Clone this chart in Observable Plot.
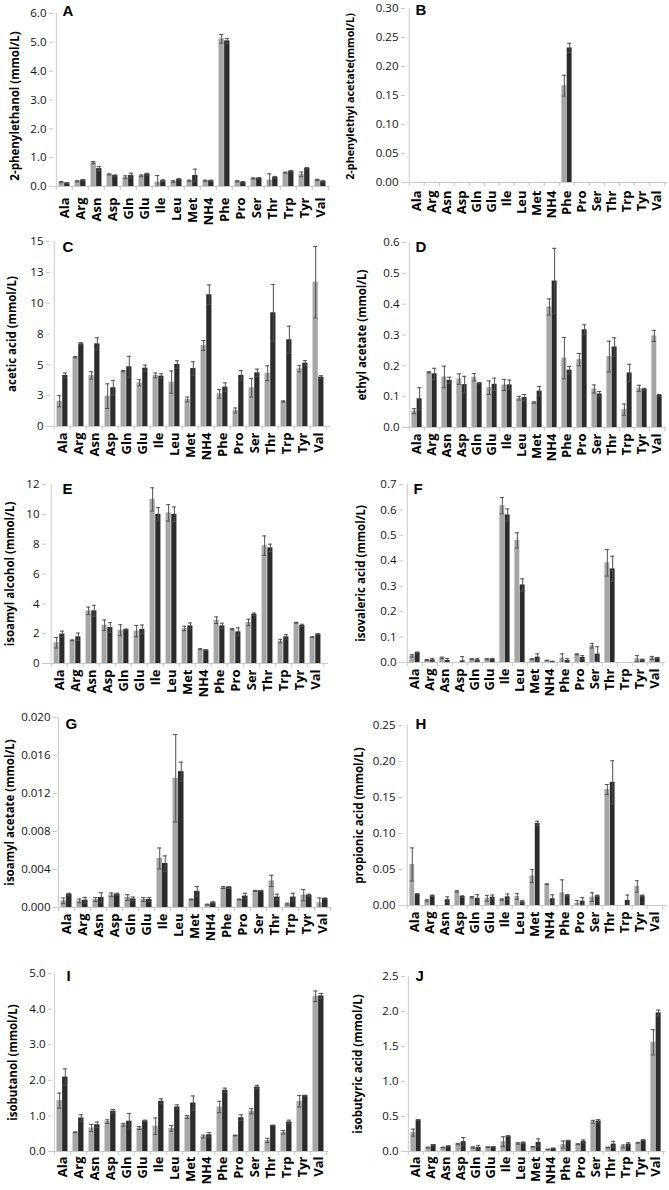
<!DOCTYPE html>
<html>
<head>
<meta charset="utf-8">
<script src="https://cdn.jsdelivr.net/npm/d3@7"></script>
<script src="https://cdn.jsdelivr.net/npm/@observablehq/plot@0.6"></script>
<style>
  body { margin: 0; background: #fff; }
  #root { position: relative; width: 669px; height: 1190px; overflow: hidden; background: #fff; font-family: "Open Sans", sans-serif; }
  #root svg { position: absolute; overflow: visible; }
</style>
</head>
<body>
<div id="root"></div>
<script>
// ---------- categories ----------
const categories = ["Ala","Arg","Asn","Asp","Gln","Glu","Ile","Leu","Met","NH4","Phe","Pro","Ser","Thr","Trp","Tyr","Val"];

// ---------- A: 2-phenylethanol ----------
const A_light    = [0.15,0.18,0.83,0.42,0.32,0.37,0.15,0.17,0.20,0.20,5.12,0.18,0.28,0.22,0.48,0.42,0.23];
const A_lightErr = [0.02,0.02,0.04,0.02,0.05,0.03,0.23,0.03,0.02,0.02,0.15,0.02,0.02,0.22,0.02,0.08,0.02];
const A_dark     = [0.12,0.22,0.62,0.38,0.38,0.43,0.20,0.25,0.38,0.20,5.05,0.15,0.29,0.32,0.53,0.63,0.18];
const A_darkErr  = [0.02,0.02,0.07,0.02,0.08,0.03,0.03,0.02,0.22,0.02,0.08,0.02,0.02,0.03,0.02,0.03,0.02];
const A_ticks = [0,1,2,3,4,5,6];

// ---------- B: 2-phenylethyl acetate ----------
const B_light    = [null,null,null,null,null,null,null,null,null,null,0.167,null,null,null,null,null,null];
const B_lightErr = [0,0,0,0,0,0,0,0,0,0,0.018,0,0,0,0,0,0];
const B_dark     = [null,null,null,null,null,null,null,null,null,null,0.232,null,null,null,null,null,null];
const B_darkErr  = [0,0,0,0,0,0,0,0,0,0,0.008,0,0,0,0,0,0];
const B_ticks = [0,0.05,0.10,0.15,0.20,0.25,0.30];

// ---------- C: acetic acid ----------
const C_light    = [2.05,5.62,4.14,2.46,4.49,3.54,4.14,3.60,2.19,6.57,2.65,1.30,3.14,4.32,2.03,4.68,11.7];
const C_lightErr = [0.45,0.05,0.30,1.00,0.05,0.25,0.20,0.90,0.20,0.40,0.35,0.20,0.75,0.60,0.05,0.25,2.90];
const C_dark     = [4.14,6.70,6.70,3.14,4.84,4.73,4.08,5.03,4.70,10.68,3.19,4.14,4.35,9.22,7.03,5.14,4.00];
const C_darkErr  = [0.20,0.10,0.50,0.60,0.85,0.25,0.20,0.30,0.55,0.80,0.35,0.40,0.30,2.30,1.10,0.20,0.12];
const C_ticks = [0,2.5,5,7.5,10,12.5,15];

// ---------- D: ethyl acetate ----------
const D_light    = [0.053,0.179,0.164,0.157,0.163,0.129,0.138,0.095,0.081,0.391,0.225,0.220,0.125,0.230,0.058,0.127,0.297];
const D_lightErr = [0.008,0.002,0.035,0.017,0.012,0.022,0.018,0.006,0.002,0.026,0.067,0.020,0.013,0.050,0.018,0.010,0.018];
const D_dark     = [0.093,0.174,0.153,0.139,0.144,0.140,0.138,0.097,0.118,0.475,0.186,0.317,0.109,0.261,0.177,0.124,0.104];
const D_darkErr  = [0.036,0.018,0.010,0.027,0.002,0.020,0.016,0.010,0.015,0.106,0.012,0.016,0.008,0.030,0.028,0.003,0.003];
const D_ticks = [0,0.1,0.2,0.3,0.4,0.5,0.6];

// ---------- E: isoamyl alcohol ----------
const E_light    = [1.39,1.55,3.53,2.57,2.23,2.17,11.0,10.1,2.35,0.96,2.90,2.30,2.75,7.90,1.50,2.73,1.77];
const E_lightErr = [0.35,0.03,0.25,0.35,0.37,0.38,0.78,0.55,0.15,0.03,0.22,0.05,0.22,0.65,0.12,0.03,0.02];
const E_dark     = [1.97,1.79,3.53,2.41,2.28,2.28,10.0,10.0,2.52,0.90,2.52,2.12,3.30,7.75,1.79,2.55,1.97];
const E_darkErr  = [0.20,0.25,0.37,0.33,0.03,0.30,0.45,0.50,0.20,0.03,0.18,0.27,0.08,0.25,0.15,0.08,0.03];
const E_ticks = [0,2,4,6,8,10,12];

// ---------- F: isovaleric acid ----------
const F_light    = [0.026,0.010,0.018,null,0.013,0.013,0.617,0.480,0.013,0.008,0.017,0.032,0.066,0.392,null,0.015,0.018];
const F_lightErr = [0.005,0.002,0.003,0,0.002,0.002,0.032,0.030,0.002,0.001,0.017,0.002,0.009,0.052,0,0.012,0.006];
const F_dark     = [0.039,0.010,0.008,0.006,0.010,0.014,0.580,0.305,0.021,0.004,0.008,0.020,0.033,0.368,null,0.011,0.018];
const F_darkErr  = [0.002,0.006,0.008,0.017,0.005,0.002,0.024,0.024,0.013,0.001,0.007,0.007,0.029,0.050,0,0.002,0.002];
const F_ticks = [0,0.1,0.2,0.3,0.4,0.5,0.6,0.7];

// ---------- G: isoamyl acetate ----------
const G_light    = [0.0007,0.0007,0.00084,0.00133,0.00105,0.00084,0.00516,0.0136,0.00084,0.0003,0.0021,0.00084,0.00175,0.0028,0.00035,0.0013,0.0005];
const G_lightErr = [0.0003,0.0002,0.0002,0.0002,0.0003,0.0002,0.0011,0.0046,0.00005,0.00005,0.0001,0.00005,0.00005,0.0006,0.0001,0.0006,0.0005];
const G_dark     = [0.0014,0.00077,0.00105,0.0014,0.0009,0.00084,0.00463,0.0143,0.0017,0.0005,0.0021,0.0012,0.00175,0.0011,0.0011,0.0013,0.00095];
const G_darkErr  = [0.0001,0.0003,0.0005,0.0001,0.0002,0.0002,0.0008,0.0010,0.0005,0.0001,0.0001,0.0003,0.00005,0.0003,0.0004,0.0001,0.00005];
const G_ticks = [0,0.004,0.008,0.012,0.016,0.020];

// ---------- H: propionic acid ----------
const H_light    = [0.057,0.007,null,0.0195,0.0115,0.010,0.0083,0.0125,0.041,0.0296,0.0176,0.003,0.0116,0.161,null,0.0264,null];
const H_lightErr = [0.023,0.001,0,0.001,0.001,0.004,0.001,0.004,0.009,0.0005,0.018,0.004,0.006,0.007,0,0.008,0];
const H_dark     = [0.016,0.0135,0.008,0.0125,0.010,0.0115,0.012,0.005,0.114,0.0093,0.0144,0.006,0.0134,0.171,0.007,0.0134,null];
const H_darkErr  = [0.0005,0.001,0.004,0.001,0.005,0.003,0.004,0.002,0.003,0.0055,0.001,0.005,0.001,0.030,0.0075,0.001,0];
const H_ticks = [0,0.05,0.10,0.15,0.20,0.25];

// ---------- I: isobutanol ----------
const I_light    = [1.43,0.54,0.66,0.84,0.75,0.66,0.71,0.65,0.97,0.42,1.25,0.45,1.13,0.31,0.54,1.41,4.36];
const I_lightErr = [0.21,0.01,0.10,0.05,0.04,0.04,0.23,0.08,0.04,0.04,0.16,0.01,0.07,0.06,0.05,0.16,0.15];
const I_dark     = [2.09,0.94,0.75,1.13,0.85,0.86,1.41,1.25,1.36,0.47,1.72,0.95,1.81,0.73,0.83,1.57,4.37];
const I_darkErr  = [0.23,0.09,0.08,0.05,0.22,0.02,0.07,0.06,0.20,0.06,0.06,0.08,0.05,0.01,0.05,0.01,0.07];
const I_ticks = [0,1,2,3,4,5];

// ---------- J: isobutyric acid ----------
const J_light    = [0.27,0.057,0.057,0.105,0.057,0.062,0.14,0.115,0.067,0.03,0.10,0.105,0.425,0.057,0.072,0.125,1.56];
const J_lightErr = [0.05,0.005,0.005,0.01,0.01,0.005,0.07,0.01,0.005,0.002,0.05,0.005,0.02,0.005,0.02,0.005,0.18];
const J_dark     = [0.45,0.095,0.076,0.14,0.057,0.067,0.22,0.125,0.13,0.045,0.155,0.145,0.435,0.105,0.105,0.162,1.98];
const J_darkErr  = [0.005,0.005,0.005,0.06,0.03,0.005,0.005,0.01,0.05,0.003,0.005,0.02,0.02,0.04,0.02,0.005,0.04];
const J_ticks = [0,0.5,1.0,1.5,2.0,2.5];

// ---------- panel definitions (text + layout) ----------
const panels = [
  {letter:"A", title:"2-phenylethanol (mmol/L)", light:A_light, lightErr:A_lightErr, dark:A_dark, darkErr:A_darkErr, ticks:A_ticks, fmt:".1f",
   left:0, top:0, w:334, h:235, mL:53, mR:4, mT:13, mB:49, titleDx:-38, titleDy:6, titleSize:11.5, letDx:9, letDy:-8, xPad:11},
  {letter:"B", title:"2-phenylethyl acetate(mmol/L)", light:B_light, lightErr:B_lightErr, dark:B_dark, darkErr:B_darkErr, ticks:B_ticks, fmt:".2f",
   left:335, top:0, w:334, h:235, mL:70, mR:2, mT:8, mB:53, titleDx:-55, titleDy:1, titleSize:10.8, letDx:10, letDy:-4, xPad:8},
  {letter:"C", title:"acetic acid (mmol/L)", light:C_light, lightErr:C_lightErr, dark:C_dark, darkErr:C_darkErr, ticks:C_ticks, fmt:".0f",
   left:0, top:235, w:334, h:230, mL:50, mR:4, mT:6, mB:39, titleDx:-38, titleDy:0, titleSize:11.5, letDx:12, letDy:0, xPad:6},
  {letter:"D", title:"ethyl acetate (mmol/L)", light:D_light, lightErr:D_lightErr, dark:D_dark, darkErr:D_darkErr, ticks:D_ticks, fmt:".1f",
   left:335, top:235, w:334, h:230, mL:71, mR:3, mT:7, mB:38, titleDx:-44, titleDy:0, titleSize:11.5, letDx:9, letDy:-1, xPad:6},
  {letter:"E", title:"isoamyl alcohol (mmol/L)", light:E_light, lightErr:E_lightErr, dark:E_dark, darkErr:E_darkErr, ticks:E_ticks, fmt:"d",
   left:0, top:465, w:334, h:235, mL:46, mR:6, mT:19, mB:37, titleDx:-36, titleDy:0, titleSize:11.5, letDx:16, letDy:-1, xPad:6},
  {letter:"F", title:"isovaleric acid (mmol/L)", light:F_light, lightErr:F_lightErr, dark:F_dark, darkErr:F_darkErr, ticks:F_ticks, fmt:".1f",
   left:335, top:465, w:334, h:235, mL:68, mR:4, mT:19, mB:38, titleDx:-42, titleDy:0, titleSize:11.5, letDx:10, letDy:-1, xPad:6},
  {letter:"G", title:"isoamyl acetate (mmol/L)", light:G_light, lightErr:G_lightErr, dark:G_dark, darkErr:G_darkErr, ticks:G_ticks, fmt:".3f",
   left:0, top:700, w:334, h:240, mL:57, mR:4, mT:17, mB:33, titleDx:-47, titleDy:0, titleSize:11.5, letDx:8, letDy:1, xPad:6},
  {letter:"H", title:"propionic acid (mmol/L)", light:H_light, lightErr:H_lightErr, dark:H_dark, darkErr:H_darkErr, ticks:H_ticks, fmt:".2f",
   left:335, top:700, w:334, h:240, mL:67, mR:2, mT:25, mB:35, titleDx:-43, titleDy:0, titleSize:11.5, letDx:13, letDy:-7, xPad:6},
  {letter:"I", title:"isobutanol (mmol/L)", light:I_light, lightErr:I_lightErr, dark:I_dark, darkErr:I_darkErr, ticks:I_ticks, fmt:".1f",
   left:0, top:940, w:334, h:250, mL:52, mR:6, mT:33, mB:39, titleDx:-39, titleDy:0, titleSize:11.5, letDx:14, letDy:-3, xPad:5},
  {letter:"J", title:"isobutyric acid (mmol/L)", light:J_light, lightErr:J_lightErr, dark:J_dark, darkErr:J_darkErr, ticks:J_ticks, fmt:".1f",
   left:335, top:940, w:334, h:250, mL:70, mR:4, mT:36, mB:39, titleDx:-47, titleDy:0, titleSize:11.5, letDx:10, letDy:-6, xPad:5}
];

const LIGHT = "#a6a6a6", DARK = "#2b2b2b", ERR = "#4f4f4f", AXIS = "#c9c9c9";
const root = document.getElementById("root");

for (const p of panels) {
  const bw = (p.w - p.mL - p.mR) / categories.length;
  const barW = bw * 0.345;
  const capW = Math.min(barW, 4.5);

  const rowsL = categories.map((c, i) => ({cat: c, v: p.light[i], e: p.lightErr[i]})).filter(d => d.v != null);
  const rowsD = categories.map((c, i) => ({cat: c, v: p.dark[i], e: p.darkErr[i]})).filter(d => d.v != null);
  const ymax = p.ticks[p.ticks.length - 1];

  const errMarks = (rows, off) => [
    Plot.ruleX(rows, {x: "cat", y1: d => Math.max(0, d.v - d.e), y2: d => d.v + d.e, dx: off, stroke: ERR, strokeWidth: 1}),
    Plot.tickY(rows, {x: "cat", y: d => d.v + d.e, dx: off, insetLeft: (bw - capW) / 2, insetRight: (bw - capW) / 2, stroke: ERR, strokeWidth: 1}),
    Plot.tickY(rows.filter(d => d.v - d.e > 0), {x: "cat", y: d => d.v - d.e, dx: off, insetLeft: (bw - capW) / 2, insetRight: (bw - capW) / 2, stroke: ERR, strokeWidth: 1})
  ];

  const svg = Plot.plot({
    width: p.w, height: p.h,
    marginLeft: p.mL, marginRight: p.mR, marginTop: p.mT, marginBottom: p.mB,
    style: {fontFamily: "'Open Sans', sans-serif", background: "#fff", overflow: "visible"},
    x: {type: "band", domain: categories, padding: 0},
    y: {domain: [0, ymax]},
    marks: [
      // y axis line and x baseline
      Plot.ruleX([categories[0]], {x: d => d, y1: 0, y2: ymax, dx: -bw / 2, stroke: AXIS}),
      Plot.ruleY([0], {stroke: AXIS}),
      // category boundary ticks
      Plot.ruleX(categories, {x: d => d, y1: 0, y2: 0, dx: -bw / 2, insetBottom: -4, stroke: AXIS}),
      Plot.ruleX([categories[categories.length - 1]], {x: d => d, y1: 0, y2: 0, dx: bw / 2, insetBottom: -4, stroke: AXIS}),
      // bars
      Plot.barY(rowsL, {x: "cat", y: "v", fill: LIGHT, insetLeft: bw / 2 - barW, insetRight: bw / 2}),
      Plot.barY(rowsD, {x: "cat", y: "v", fill: DARK, insetLeft: bw / 2, insetRight: bw / 2 - barW}),
      ...errMarks(rowsL, -barW / 2),
      ...errMarks(rowsD, barW / 2),
      // axes
      Plot.axisY({ticks: p.ticks, tickFormat: d3.format(p.fmt), tickSize: 4, tickPadding: 3, stroke: AXIS, fill: "#111", fontSize: 11.5, label: null}),
      Plot.axisX({tickSize: 0, tickPadding: p.xPad, tickRotate: -90, fontWeight: "bold", fontSize: 13, fill: "#000", label: null}),
      // axis title
      Plot.text([p.title], {frameAnchor: "left", dx: p.titleDx, dy: p.titleDy, rotate: -90, textAnchor: "middle", lineAnchor: "middle",
        fontWeight: "bold", fontSize: p.titleSize, fill: "#000"}),
      // panel letter
      Plot.text([p.letter], {frameAnchor: "top-left", dx: p.letDx, dy: p.letDy, textAnchor: "start", lineAnchor: "top",
        fontWeight: "bold", fontSize: 15, fontFamily: "'Liberation Sans', Arial, sans-serif", fill: "#000"})
    ]
  });
  svg.style.left = p.left + "px";
  svg.style.top = p.top + "px";
  root.appendChild(svg);
}
</script>
</body>
</html>
